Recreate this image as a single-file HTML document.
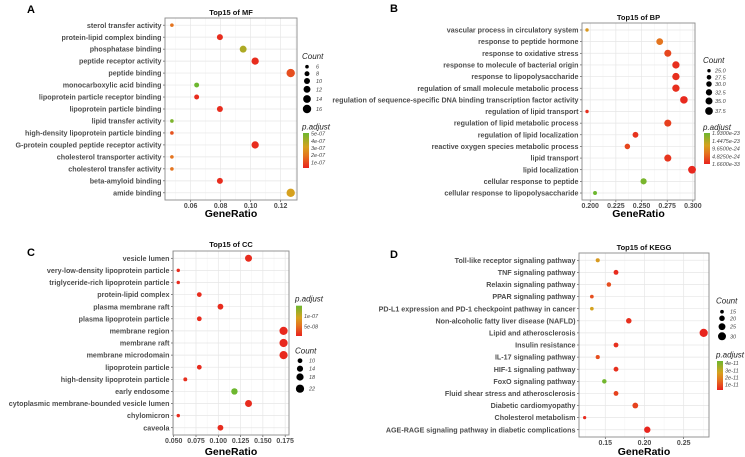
<!DOCTYPE html>
<html><head><meta charset="utf-8">
<style>
html,body{margin:0;padding:0;background:#fff;}
svg{display:block;font-family:"Liberation Sans",Arial,sans-serif;}
</style></head>
<body>
<svg id="fig" width="745" height="457" viewBox="0 0 745 457" xmlns="http://www.w3.org/2000/svg"></svg>
<script>
// ---------- Panel A data (MF) ----------
const aTerms = ["sterol transfer activity","protein-lipid complex binding","phosphatase binding","peptide receptor activity","peptide binding","monocarboxylic acid binding","lipoprotein particle receptor binding","lipoprotein particle binding","lipid transfer activity","high-density lipoprotein particle binding","G-protein coupled peptide receptor activity","cholesterol transporter activity","cholesterol transfer activity","beta-amyloid binding","amide binding"];
const aRatio = [0.0475,0.0795,0.0950,0.1030,0.1267,0.0640,0.0640,0.0795,0.0475,0.0475,0.1030,0.0475,0.0475,0.0795,0.1267];
const aCount = [6,10,12,13,16,8,8,10,6,6,13,6,6,10,16];
const aPadj = [1.9e-7,0.4e-7,3.9e-7,0.4e-7,1.1e-7,5.1e-7,0.4e-7,0.4e-7,4.8e-7,1.2e-7,0.4e-7,1.9e-7,1.9e-7,0.4e-7,3.1e-7];
const aTicks = [0.06,0.08,0.10,0.12];
const aTickLabels = ["0.06","0.08","0.10","0.12"];
const aSizeLegend = [6,8,10,12,14,16];
const aColorTicks = [5e-7,4e-7,3e-7,2e-7,1e-7];
const aColorLabels = ["5e-07","4e-07","3e-07","2e-07","1e-07"];

// ---------- Panel B data (BP) ----------
const bTerms = ["vascular process in circulatory system","response to peptide hormone","response to oxidative stress","response to molecule of bacterial origin","response to lipopolysaccharide","regulation of small molecule metabolic process","regulation of sequence-specific DNA binding transcription factor activity","regulation of lipid transport","regulation of lipid metabolic process","regulation of lipid localization","reactive oxygen species metabolic process","lipid transport","lipid localization","cellular response to peptide","cellular response to lipopolysaccharide"];
const bRatio = [0.1969,0.2677,0.2756,0.2835,0.2835,0.2835,0.2913,0.1969,0.2756,0.2441,0.2362,0.2756,0.2992,0.2520,0.2047];
const bCount = [25,34,35,36,36,36,37,25,35,31,30,35,38,32,26];
const bPadj = [1.05e-23,0.68e-23,0.29e-23,0.1e-23,0.1e-23,0.1e-23,0.06e-23,0.1e-23,0.23e-23,0.13e-23,0.29e-23,0.15e-23,0.04e-23,1.84e-23,1.93e-23];
const bTicks = [0.200,0.225,0.250,0.275,0.300];
const bTickLabels = ["0.200","0.225","0.250","0.275","0.300"];
const bSizeLegend = [25,27.5,30,32.5,35,37.5];
const bSizeLabels = ["25.0","27.5","30.0","32.5","35.0","37.5"];
const bColorTicks = [1.93e-23,1.4475e-23,9.65e-24,4.825e-24,1.66e-33];
const bColorLabels = ["1.9300e-23","1.4475e-23","9.6500e-24","4.8250e-24","1.6600e-33"];

// ---------- Panel C data (CC) ----------
const cTerms = ["vesicle lumen","very-low-density lipoprotein particle","triglyceride-rich lipoprotein particle","protein-lipid complex","plasma membrane raft","plasma lipoprotein particle","membrane region","membrane raft","membrane microdomain","lipoprotein particle","high-density lipoprotein particle","early endosome","cytoplasmic membrane-bounded vesicle lumen","chylomicron","caveola"];
const cRatio = [0.1339,0.0551,0.0551,0.0787,0.1024,0.0787,0.1732,0.1732,0.1732,0.0787,0.0630,0.1181,0.1339,0.0551,0.1024];
const cCount = [17,7,7,10,13,10,22,22,22,10,8,15,17,7,13];
const cPadj = [1.2e-8,1.2e-8,1.2e-8,1.2e-8,1.2e-8,1.2e-8,1.0e-8,1.0e-8,1.0e-8,1.2e-8,1.4e-8,1.48e-7,1.2e-8,1.2e-8,1.2e-8];
const cTicks = [0.050,0.075,0.100,0.125,0.150,0.175];
const cTickLabels = ["0.050","0.075","0.100","0.125","0.150","0.175"];
const cSizeLegend = [10,14,18,22];
const cColorTicks = [1e-7,5e-8];
const cColorLabels = ["1e-07","5e-08"];

// ---------- Panel D data (KEGG) ----------
const dTerms = ["Toll-like receptor signaling pathway","TNF signaling pathway","Relaxin signaling pathway","PPAR signaling pathway","PD-L1 expression and PD-1 checkpoint pathway in cancer","Non-alcoholic fatty liver disease (NAFLD)","Lipid and atherosclerosis","Insulin resistance","IL-17 signaling pathway","HIF-1 signaling pathway","FoxO signaling pathway","Fluid shear stress and atherosclerosis","Diabetic cardiomyopathy","Cholesterol metabolism","AGE-RAGE signaling pathway in diabetic complications"];
const dRatio = [0.1404,0.1637,0.1546,0.1329,0.1329,0.1800,0.2755,0.1637,0.1404,0.1637,0.1488,0.1637,0.1883,0.1237,0.2036];
const dCount = [16,18,17,15,15,20,31,18,16,18,17,18,21,14,23];
const dPadj = [2.5e-11,0.4e-11,1.0e-11,1.0e-11,2.7e-11,0.5e-11,0.3e-11,0.5e-11,1.0e-11,0.5e-11,4.2e-11,0.8e-11,0.8e-11,0.4e-11,0.3e-11];
const dTicks = [0.15,0.20,0.25];
const dTickLabels = ["0.15","0.20","0.25"];
const dSizeLegend = [15,20,25,30];
const dColorTicks = [4e-11,3e-11,2e-11,1e-11];
const dColorLabels = ["4e-11","3e-11","2e-11","1e-11"];

const NS = "http://www.w3.org/2000/svg";
const svg = document.getElementById("fig");
function mk(tag, attrs, parent, text){
  const e = document.createElementNS(NS, tag);
  for (const k in attrs) e.setAttribute(k, attrs[k]);
  if (text !== undefined) e.textContent = text;
  (parent || svg).appendChild(e);
  return e;
}
const stops = [[0,[232,35,30]],[0.35,[228,117,31]],[0.6,[214,162,31]],[1,[109,183,47]]];
function colorAt(t){
  t = Math.max(0, Math.min(1, t));
  for (let i=1;i<stops.length;i++){
    if (t <= stops[i][0]){
      const a=stops[i-1], b=stops[i], f=(t-a[0])/(b[0]-a[0]);
      const c=a[1].map((v,j)=>Math.round(v+(b[1][j]-v)*f));
      return "rgb("+c.join(",")+")";
    }
  }
  return "rgb(109,183,47)";
}

const defs = mk("defs", {});
const lg = mk("linearGradient", {id:"cbar", x1:"0", y1:"1", x2:"0", y2:"0"}, defs);
[0,0.35,0.6,1].forEach(o=>mk("stop",{offset:o,"stop-color":colorAt(o)},lg));

function panel(cfg){
  const g = mk("g", {});
  
  
  const [L,T,R,B] = cfg.box;
  const x = v => L + (v - cfg.xd[0]) / (cfg.xd[1] - cfg.xd[0]) * (R - L);
  const n = cfg.terms.length;
  const step = (B - T) / (n + 0.2);
  const y = i => T + 0.6*step + i*step;
  const rSize = c => { const f=(c-cfg.cmin)/(cfg.cmax-cfg.cmin); return Math.sqrt(cfg.rmin*cfg.rmin + f*(cfg.rmax*cfg.rmax-cfg.rmin*cfg.rmin)); };
  const tCol = v => (v - cfg.pd[0]) / (cfg.pd[1] - cfg.pd[0]);

  mk("rect",{x:L,y:T,width:R-L,height:B-T,fill:"#fff"},g);
  for (let k=0;k<cfg.ticks.length+1;k++){
    const prev = k===0 ? cfg.ticks[0]-(cfg.ticks[1]-cfg.ticks[0]) : cfg.ticks[k-1];
    const mid = k<cfg.ticks.length ? (prev+cfg.ticks[k])/2 : cfg.ticks[k-1]+(cfg.ticks[1]-cfg.ticks[0])/2;
    if (x(mid)>L && x(mid)<R) mk("line",{x1:x(mid),x2:x(mid),y1:T,y2:B,stroke:"#f3f3f3","stroke-width":0.5},g);
  }
  cfg.ticks.forEach((t,k)=>{
    const gl = mk("line",{x1:x(t),x2:x(t),y1:T,y2:B,stroke:"#e6e6e6","stroke-width":0.7},g);
    
    
    mk("line",{x1:x(t),x2:x(t),y1:B,y2:B+2,stroke:"#333","stroke-width":0.6},g);
    const tl = mk("text",{x:x(t),y:B+8,"text-anchor":"middle","font-size":7,"font-weight":"bold",fill:"#4d4d4d"},g,cfg.tickLabels[k]);
    
    
  });
  cfg.terms.forEach((term,i)=>{
    mk("line",{x1:L,x2:R,y1:y(i),y2:y(i),stroke:"#e6e6e6","stroke-width":0.7},g);
    mk("line",{x1:L-2,x2:L,y1:y(i),y2:y(i),stroke:"#333","stroke-width":0.6},g);
    const lab = mk("text",{x:L-3.5,y:y(i)+2.6,"text-anchor":"end","font-size":7.15,"font-weight":"bold",fill:"#4d4d4d"},g,term);
    
    
  });
  const frame = mk("rect",{x:L,y:T,width:R-L,height:B-T,fill:"none",stroke:"#8a8a8a","stroke-width":0.9},g);
  
  
  cfg.ratio.forEach((v,i)=>{
    const c = mk("circle",{cx:x(v),cy:y(i),r:rSize(cfg.count[i]),fill:colorAt(tCol(cfg.padj[i]))},g);
    
    
  });
  const tt = mk("text",{x:(L+R)/2,y:cfg.titleY,"text-anchor":"middle","font-size":7.5,"font-weight":"bold",fill:"#111"},g,cfg.title);
  
  
  const xt = mk("text",{x:(L+R)/2,y:cfg.xTitleY,"text-anchor":"middle","font-size":10.5,"font-weight":"bold",fill:"#000"},g,"GeneRatio");
  
  
  const pl = mk("text",{x:cfg.letter[0],y:cfg.letter[1],"font-size":11,"font-weight":"bold",fill:"#000"},g,cfg.letterText);
  
  

  const sl = cfg.sizeLeg;
  const st = mk("text",{x:sl.x,y:sl.titleY,"font-size":8,"font-style":"italic",fill:"#222"},g,"Count");
  
  
  cfg.sizeLegend.forEach((c,k)=>{
    const e = mk("circle",{cx:sl.cx,cy:sl.ys[k],r:rSize(c),fill:"#000"},g);
    
    
    mk("text",{x:sl.lx,y:sl.ys[k]+2,"font-size":5.5,"font-style":"italic",fill:"#444"},g,cfg.sizeLabels?cfg.sizeLabels[k]:String(c));
  });
  const cl = cfg.colLeg;
  const ct = mk("text",{x:cl.x,y:cl.titleY,"font-size":8,"font-style":"italic",fill:"#222"},g,"p.adjust");
  
  
  const bar = mk("rect",{x:cl.x+1,y:cl.top,width:6,height:cl.bot-cl.top,fill:"url(#cbar)"},g);
  
  
  cfg.colorTicks.forEach((v,k)=>{
    const yy = cl.bot - (v-cfg.pd[0])/(cfg.pd[1]-cfg.pd[0])*(cl.bot-cl.top);
    mk("text",{x:cl.x+9,y:yy+2,"font-size":5.5,"font-style":"italic",fill:"#444"},g,cfg.colorLabels[k]);
  });
}

panel({name:"panel-a-mf",letterText:"A",letter:[27,13],title:"Top15 of MF",titleY:15,xTitleY:217,
  box:[165,18,297,200],xd:[0.0429,0.1309],terms:aTerms,ratio:aRatio,count:aCount,padj:aPadj,
  ticks:aTicks,tickLabels:aTickLabels,cmin:6,cmax:16,rmin:1.8,rmax:4.2,pd:[0.2e-7,5.1e-7],
  sizeLegend:aSizeLegend,sizeLeg:{x:302,titleY:59,cx:307,lx:316,ys:[66.7,73.7,81,89.3,99,109]},
  colorTicks:aColorTicks,colorLabels:aColorLabels,colLeg:{x:302,titleY:129.5,top:133,bot:168}});

panel({name:"panel-b-bp",letterText:"B",letter:[390,12],title:"Top15 of BP",titleY:20,xTitleY:217,
  box:[582,23,695,200],xd:[0.192,0.3021],terms:bTerms,ratio:bRatio,count:bCount,padj:bPadj,
  ticks:bTicks,tickLabels:bTickLabels,cmin:25,cmax:38,rmin:1.7,rmax:3.9,pd:[1.66e-33,1.93e-23],
  sizeLegend:bSizeLegend,sizeLabels:bSizeLabels,sizeLeg:{x:703,titleY:63,cx:709,lx:715,ys:[70.7,77.3,84,92.3,101,111]},
  colorTicks:bColorTicks,colorLabels:bColorLabels,colLeg:{x:703,titleY:130,top:133,bot:164}});

panel({name:"panel-c-cc",letterText:"C",letter:[27,256],title:"Top15 of CC",titleY:247,xTitleY:455,
  box:[173,251,289,435],xd:[0.0492,0.1793],terms:cTerms,ratio:cRatio,count:cCount,padj:cPadj,
  ticks:cTicks,tickLabels:cTickLabels,cmin:7,cmax:22,rmin:1.7,rmax:4.1,pd:[0.65e-8,1.48e-7],
  sizeLegend:cSizeLegend,sizeLeg:{x:295,titleY:353.7,cx:300,lx:309,ys:[360.7,368.7,377,388.7]},
  colorTicks:cColorTicks,colorLabels:cColorLabels,colLeg:{x:295,titleY:301.7,top:305.7,bot:336}});

panel({name:"panel-d-kegg",letterText:"D",letter:[390,258],title:"Top15 of KEGG",titleY:250,xTitleY:455,
  box:[579,253,709,437],xd:[0.1165,0.2823],terms:dTerms,ratio:dRatio,count:dCount,padj:dPadj,
  ticks:dTicks,tickLabels:dTickLabels,cmin:14,cmax:31,rmin:1.6,rmax:4.1,pd:[0.27e-11,4.28e-11],
  sizeLegend:dSizeLegend,sizeLeg:{x:716,titleY:303.5,cx:722,lx:730,ys:[311.7,318.3,326.7,336.3]},
  colorTicks:dColorTicks,colorLabels:dColorLabels,colLeg:{x:716,titleY:357.5,top:361,bot:390}});
</script>
</body></html>
